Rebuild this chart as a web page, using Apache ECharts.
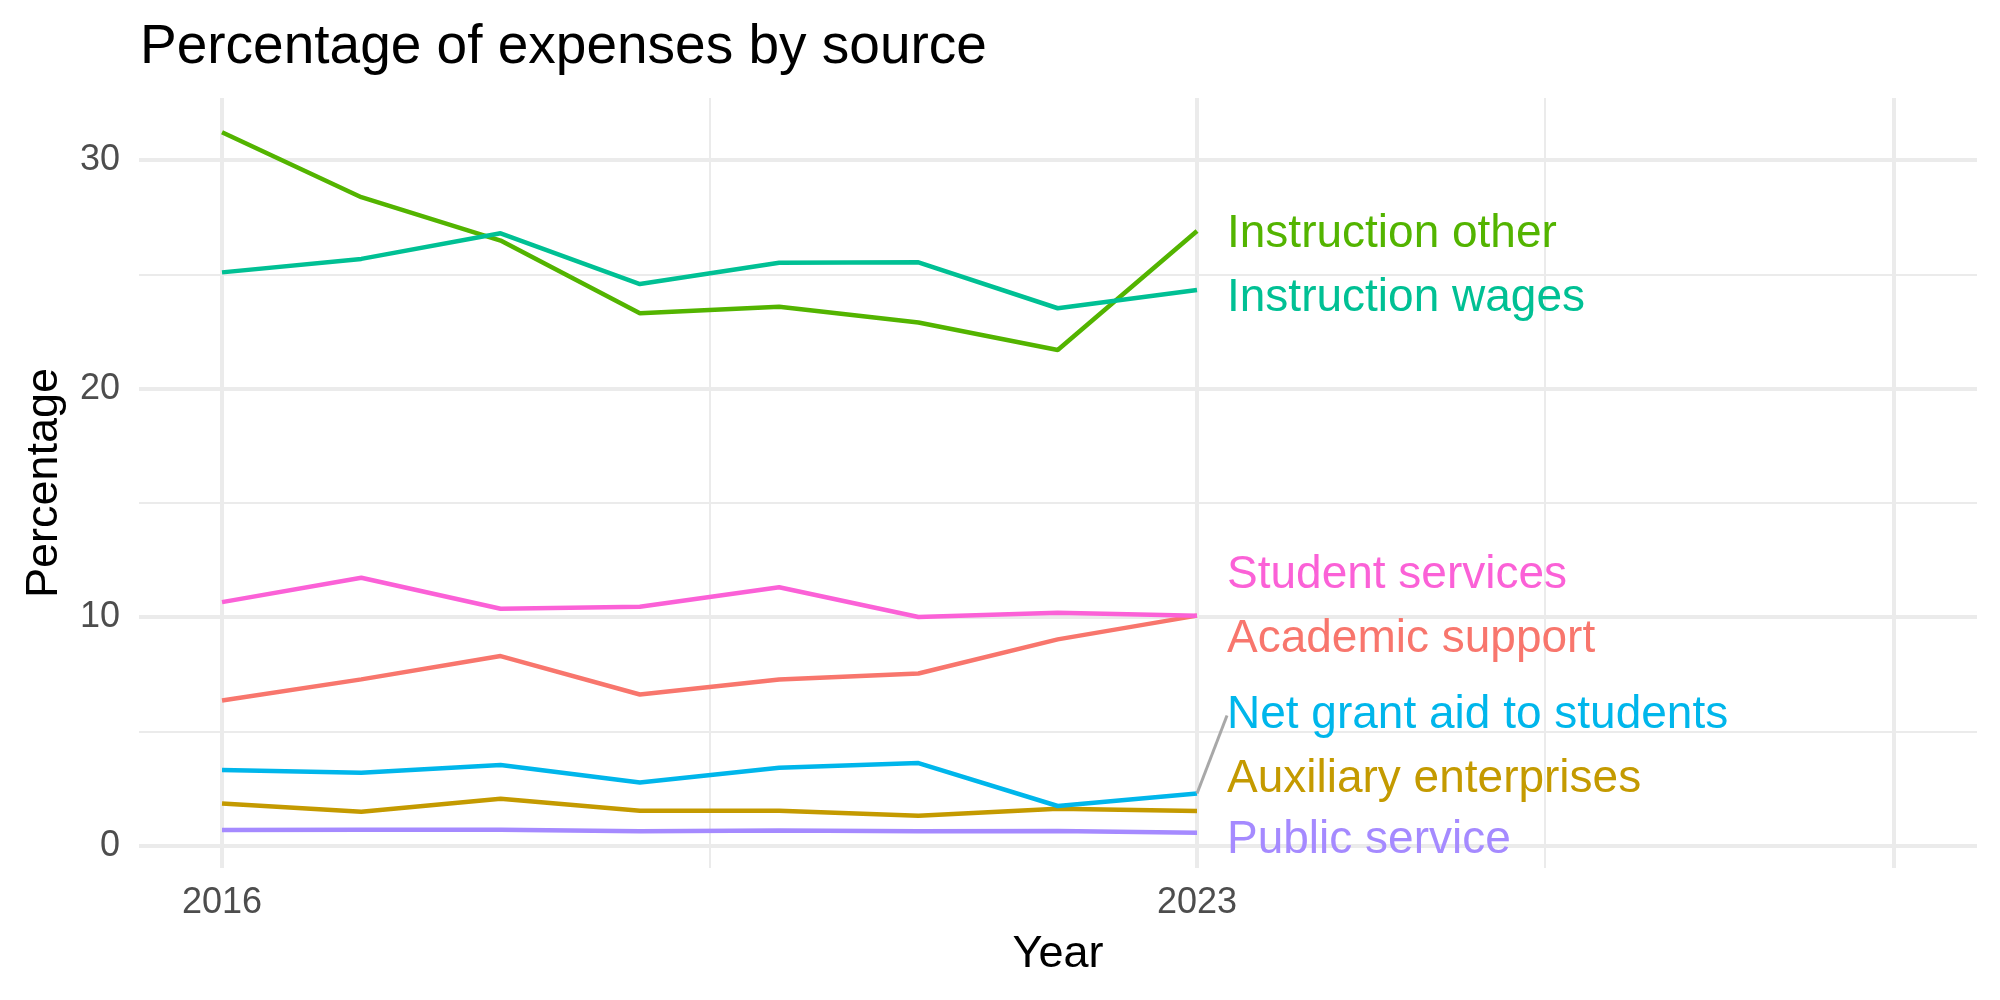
<!DOCTYPE html>
<html>
<head>
<meta charset="utf-8">
<script src="https://cdn.jsdelivr.net/npm/echarts@6/dist/echarts.min.js"></script>
<style>
  html, body { margin: 0; padding: 0; background: #fff; }
  #chart { width: 2000px; height: 1000px; }
</style>
</head>
<body>
<div id="chart"></div>
<script>
var years = [2016, 2017, 2018, 2019, 2020, 2021, 2022, 2023]

var academicSupport = [6.36, 7.28, 8.30, 6.62, 7.28, 7.54, 9.03, 10.07]
var auxiliaryEnterprises = [1.85, 1.49, 2.06, 1.53, 1.53, 1.31, 1.62, 1.52]
var instructionOther = [31.22, 28.38, 26.48, 23.30, 23.59, 22.90, 21.69, 26.90]
var instructionWages = [25.09, 25.68, 26.80, 24.58, 25.51, 25.53, 23.52, 24.32]
var netGrantAid = [3.31, 3.20, 3.53, 2.77, 3.41, 3.62, 1.74, 2.29]
var publicService = [0.69, 0.70, 0.70, 0.64, 0.67, 0.64, 0.65, 0.57]
var studentServices = [10.66, 11.73, 10.37, 10.46, 11.31, 10.01, 10.20, 10.07]

var seriesNames = ['Academic support', 'Auxiliary enterprises', 'Instruction other',
  'Instruction wages', 'Net grant aid to students', 'Public service', 'Student services']

var xTickLabels = [2016, 2023]
var yTickLabels = [0, 10, 20, 30]
var xGridMajor = [2016, 2023, 2028]
var xGridMinor = [2019.5, 2025.5]
var yGridMajor = [0, 10, 20, 30]
var yGridMinor = [5, 15, 25]

var lineData = [academicSupport, auxiliaryEnterprises, instructionOther, instructionWages,
  netGrantAid, publicService, studentServices]
// ggplot hue palette
var colors = ['#F8766D', '#C49A00', '#53B400', '#00C094', '#00B6EB', '#A58AFF', '#FB61D7']
// vertical nudge of the end labels (px), like the repelled labels in the original
var labelShift = [24, -32, 3, 8, -78, 8, -40]

var font = 'Liberation Sans, Arial, Helvetica, sans-serif'
var chart = echarts.init(document.getElementById('chart'))

var gridLines = []
xGridMajor.forEach(function(v) {
  gridLines.push({ xAxis: v, lineStyle: { color: '#ebebeb', width: 4, type: 'solid' } })
})
xGridMinor.forEach(function(v) {
  gridLines.push({ xAxis: v, lineStyle: { color: '#ebebeb', width: 2, type: 'solid' } })
})
yGridMajor.forEach(function(v) {
  gridLines.push({ yAxis: v, lineStyle: { color: '#ebebeb', width: 4, type: 'solid' } })
})
yGridMinor.forEach(function(v) {
  gridLines.push({ yAxis: v, lineStyle: { color: '#ebebeb', width: 2, type: 'solid' } })
})

var series = [{
  type: 'line',
  z: 1,
  silent: true,
  symbol: 'none',
  lineStyle: { width: 0 },
  data: [[years[0], 0]],
  markLine: {
    z: 1,
    silent: true,
    animation: false,
    symbol: ['none', 'none'],
    label: { show: false },
    emphasis: { disabled: true },
    data: gridLines
  }
}]

lineData.forEach(function(vals, i) {
  var last = vals.length - 1
  series.push({
    name: seriesNames[i],
    type: 'line',
    z: 3,
    silent: true,
    symbol: 'circle',
    symbolSize: 0,
    showSymbol: true,
    lineStyle: { color: colors[i], width: 4.5 },
    itemStyle: { color: colors[i] },
    emphasis: { disabled: true },
    label: {
      show: false,
      position: 'right',
      distance: 30,
      formatter: seriesNames[i],
      color: colors[i],
      fontSize: 46,
      fontFamily: font
    },
    labelLayout: { dy: labelShift[i] },
    labelLine: {
      show: i === 4,
      lineStyle: { color: '#a8a8a8', width: 3 }
    },
    data: years.map(function(y, j) {
      var d = { value: [y, vals[j]] }
      if (j === last) d.label = { show: true }
      return d
    })
  })
})

chart.setOption({
  animation: false,
  backgroundColor: '#fff',
  title: {
    text: 'Percentage of expenses by source',
    left: 140,
    top: 20,
    padding: 0,
    textStyle: { fontSize: 55, fontWeight: 'normal', color: '#000', fontFamily: font }
  },
  grid: {
    left: 139, right: 23, top: 98, bottom: 132,
    containLabel: false,
    outerBoundsMode: 'none'
  },
  xAxis: {
    type: 'value',
    min: 2015.404,
    max: 2028.6,
    name: 'Year',
    nameLocation: 'middle',
    nameGap: 64,
    nameTextStyle: { fontSize: 45, color: '#000', fontFamily: font },
    axisLine: { show: false },
    axisTick: { show: false },
    splitLine: { show: false },
    axisLabel: {
      customValues: xTickLabels,
      margin: 17,
      fontSize: 36,
      color: '#4d4d4d',
      fontFamily: font,
      formatter: function(v) { return String(v) }
    }
  },
  yAxis: {
    type: 'value',
    min: -0.973,
    max: 32.72,
    name: 'Percentage',
    nameLocation: 'middle',
    nameGap: 72,
    nameTextStyle: { fontSize: 45, color: '#000', fontFamily: font },
    axisLine: { show: false },
    axisTick: { show: false },
    splitLine: { show: false },
    axisLabel: {
      customValues: yTickLabels,
      margin: 19,
      fontSize: 36,
      color: '#4d4d4d',
      fontFamily: font
    }
  },
  series: series
})
</script>
</body>
</html>
